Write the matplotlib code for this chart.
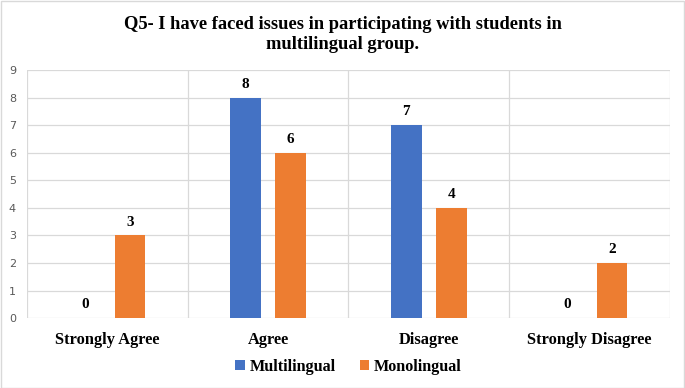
import numpy as np
import matplotlib
matplotlib.use('Agg')
import matplotlib.pyplot as plt
from matplotlib.patches import Rectangle

categories = ['Strongly Agree', 'Agree', 'Disagree', 'Strongly Disagree']
multilingual = [0, 8, 7, 0]
monolingual = [3, 6, 4, 2]
series_names = ['Multilingual', 'Monolingual']

blue = '#4472C4'
orange = '#ED7D31'
serif = 'Liberation Serif'

fig = plt.figure(figsize=(6.85, 3.88), dpi=100)
ax = fig.add_axes([0.0394, 0.180, 0.9386, 0.6396])

x = np.arange(len(categories))
w = 0.19
off = 0.14
b1 = ax.bar(x - off, multilingual, w, color=blue, label=series_names[0], zorder=3)
b2 = ax.bar(x + off, monolingual, w, color=orange, label=series_names[1], zorder=3)

for bars, vals in ((b1, multilingual), (b2, monolingual)):
    for b, v in zip(bars, vals):
        ax.text(b.get_x() + b.get_width() / 2, v + 0.25, str(v), ha='center', va='bottom',
                fontsize=11, fontweight='bold', family=serif, zorder=4)

ax.set_xlim(-0.5, len(categories) - 0.5)
ax.set_ylim(0, 9)
ax.set_yticks(range(10))
ax.yaxis.grid(True, color='#D9D9D9', linewidth=0.9, zorder=0)
for xb in np.arange(-0.5, len(categories), 1):
    ax.axvline(xb, color='#D9D9D9', linewidth=0.9, zorder=0)
for s in ax.spines.values():
    s.set_visible(False)
ax.tick_params(axis='both', length=0)
ax.tick_params(axis='y', labelsize=8, labelcolor='#595959', pad=8)
ax.set_xticks(x)
ax.set_xticklabels(categories, fontsize=11.8, fontweight='bold', family=serif)
ax.tick_params(axis='x', pad=10)

fig.text(0.5, 0.91, 'Q5- I have faced issues in participating with students in\nmultilingual group.',
         ha='center', va='center', fontsize=13.3, fontweight='bold', family=serif, linespacing=1.22)

leg = ax.legend(loc='upper center', bbox_to_anchor=(0.5, -0.105), ncol=2, frameon=False,
                prop={'family': serif, 'weight': 'bold', 'size': 11.6},
                handlelength=0.6, handleheight=0.6, handletextpad=0.3, columnspacing=1.5)

fig.patches.append(Rectangle((0.001, 0.001), 0.997, 0.996, transform=fig.transFigure,
                             fill=False, edgecolor='#D9D9D9', linewidth=1))

fig.savefig('out.png', dpi=100)
